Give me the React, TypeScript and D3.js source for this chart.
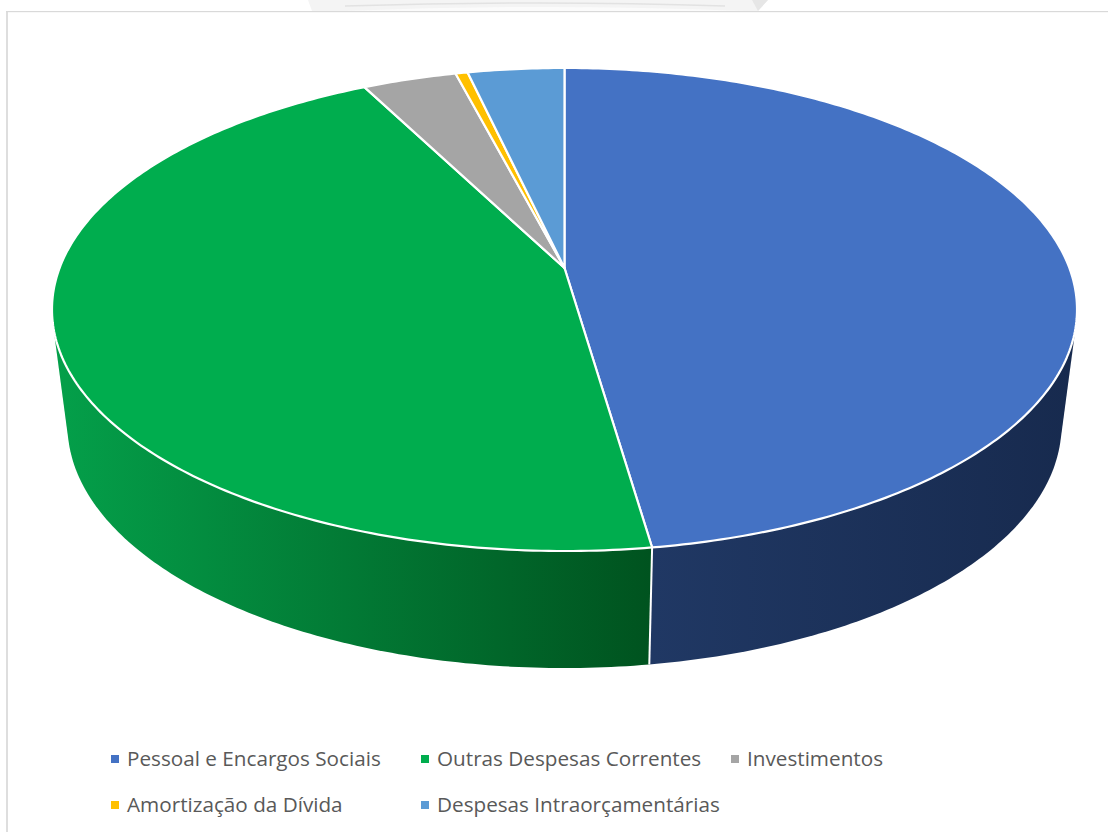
import React from "react";
import * as d3 from "d3";

// Budget execution by expense group (% of total)
const categories = [
  "Pessoal e Encargos Sociais",
  "Outras Despesas Correntes",
  "Investimentos",
  "Amortização da Dívida",
  "Despesas Intraorçamentárias",
];
const shares = [47.7, 44.75, 3.5, 0.45, 3.6];

const faceColors = ["#4472c4", "#00ad4e", "#a5a5a5", "#ffc000", "#5b9bd5"];
const wallStart = ["#203864", "#04a04a", "#6f6f6f", "#a88000", "#3c6e9e"];
const wallEnd = ["#172a4e", "#00531f", "#555555", "#806000", "#2c5378"];
const gradientSpan = [
  [652, 1077],
  [52, 650],
  [300, 500],
  [450, 480],
  [460, 565],
];

type Plane = { cx: number; cy: number; R: number; k: number; p: number };

// Perspective projection of the unit disc onto the drawing plane, one for each pie face
const topPlane: Plane = { cx: 564.5, cy: 268, R: 504.9, k: 234.4, p: 0.1718 };
const lowPlane: Plane = { cx: 564.5, cy: 383.7, R: 489.8, k: 236, p: 0.17 };

function project(pl: Plane, angle: number): [number, number] {
  const u = Math.sin(angle);
  const v = Math.cos(angle);
  const w = 1 + pl.p * v;
  return [pl.cx + (pl.R * u) / w, pl.cy - (pl.k * v) / w];
}

const arcs = d3.pie<number>().sort(null).value((d) => d)(shares);
const line = d3.line();
const STEP = Math.PI / 240;

function anglesBetween(a0: number, a1: number): number[] {
  const n = Math.max(2, Math.ceil((a1 - a0) / STEP));
  return d3.range(n + 1).map((i) => a0 + ((a1 - a0) * i) / n);
}

function facePath(a0: number, a1: number): string {
  const rim = anglesBetween(a0, a1).map((a) => project(topPlane, a));
  return line([[topPlane.cx, topPlane.cy], ...rim])! + "Z";
}

// Outer wall of a wedge: the hull of its upper and lower rims. Later wedges and
// the faces are painted over whatever the hull covers past the wedge's own side.
function wallPath(a0: number, a1: number): string {
  const steps = anglesBetween(a0, a1);
  const rims = [...steps.map((a) => project(topPlane, a)), ...steps.map((a) => project(lowPlane, a))];
  return line(d3.polygonHull(rims)!)! + "Z";
}

const legendRows = [
  { index: 0, x: 111, y: 759 },
  { index: 1, x: 421, y: 759 },
  { index: 2, x: 731, y: 759 },
  { index: 3, x: 111, y: 805 },
  { index: 4, x: 421, y: 805 },
];

export default function App() {
  const splitAngle = arcs[0].endAngle;
  const edgeTop = project(topPlane, splitAngle);
  const edgeLow = project(lowPlane, splitAngle);
  return (
    <svg
      width={1108}
      height={832}
      viewBox="0 0 1108 832"
      style={{ position: "absolute", left: 0, top: 0, display: "block", background: "#fff" }}
    >
      <defs>
        {arcs.map((_, i) => (
          <linearGradient
            key={i}
            id={`wall-${i}`}
            gradientUnits="userSpaceOnUse"
            x1={gradientSpan[i][0]}
            x2={gradientSpan[i][1]}
            y1={0}
            y2={0}
          >
            <stop offset="0" stopColor={wallStart[i]} />
            <stop offset="1" stopColor={wallEnd[i]} />
          </linearGradient>
        ))}
      </defs>

      {/* Crest printed above the frame */}
      <path d="M308,0 H768 L758,11 H312 Z" fill="#f4f4f4" />
      <path d="M345,11 Q540,3 745,11 Z" fill="#fbfbfb" />
      <path d="M345,6 Q540,0 725,6" fill="none" stroke="#e2e2e2" strokeWidth={1.6} />
      <path d="M752,0 L768,0 L758,11 Z" fill="#e6e6e6" />

      <rect x={6} y={11} width={2} height={821} fill="#dedede" />
      <rect x={6} y={11} width={1102} height={1.2} fill="#d9d9d9" />

      {arcs.map((a, i) => (
        <path key={i} d={wallPath(a.startAngle, a.endAngle)} fill={`url(#wall-${i})`} />
      ))}
      <line x1={edgeTop[0]} y1={edgeTop[1]} x2={edgeLow[0]} y2={edgeLow[1]} stroke="#fff" strokeWidth={2} />

      {arcs.map((a, i) => (
        <path
          key={i}
          d={facePath(a.startAngle, a.endAngle)}
          fill={faceColors[i]}
          stroke="#fff"
          strokeWidth={2.2}
          strokeLinejoin="round"
        />
      ))}

      {legendRows.map(({ index, x, y }) => (
        <g key={index}>
          <rect x={x} y={y - 4} width={8} height={8} fill={faceColors[index]} />
          <text
            x={x + 16}
            y={y + 7}
            fontFamily="'Open Sans', sans-serif"
            fontSize={20.7}
            fill="#595959"
          >
            {categories[index]}
          </text>
        </g>
      ))}
    </svg>
  );
}
